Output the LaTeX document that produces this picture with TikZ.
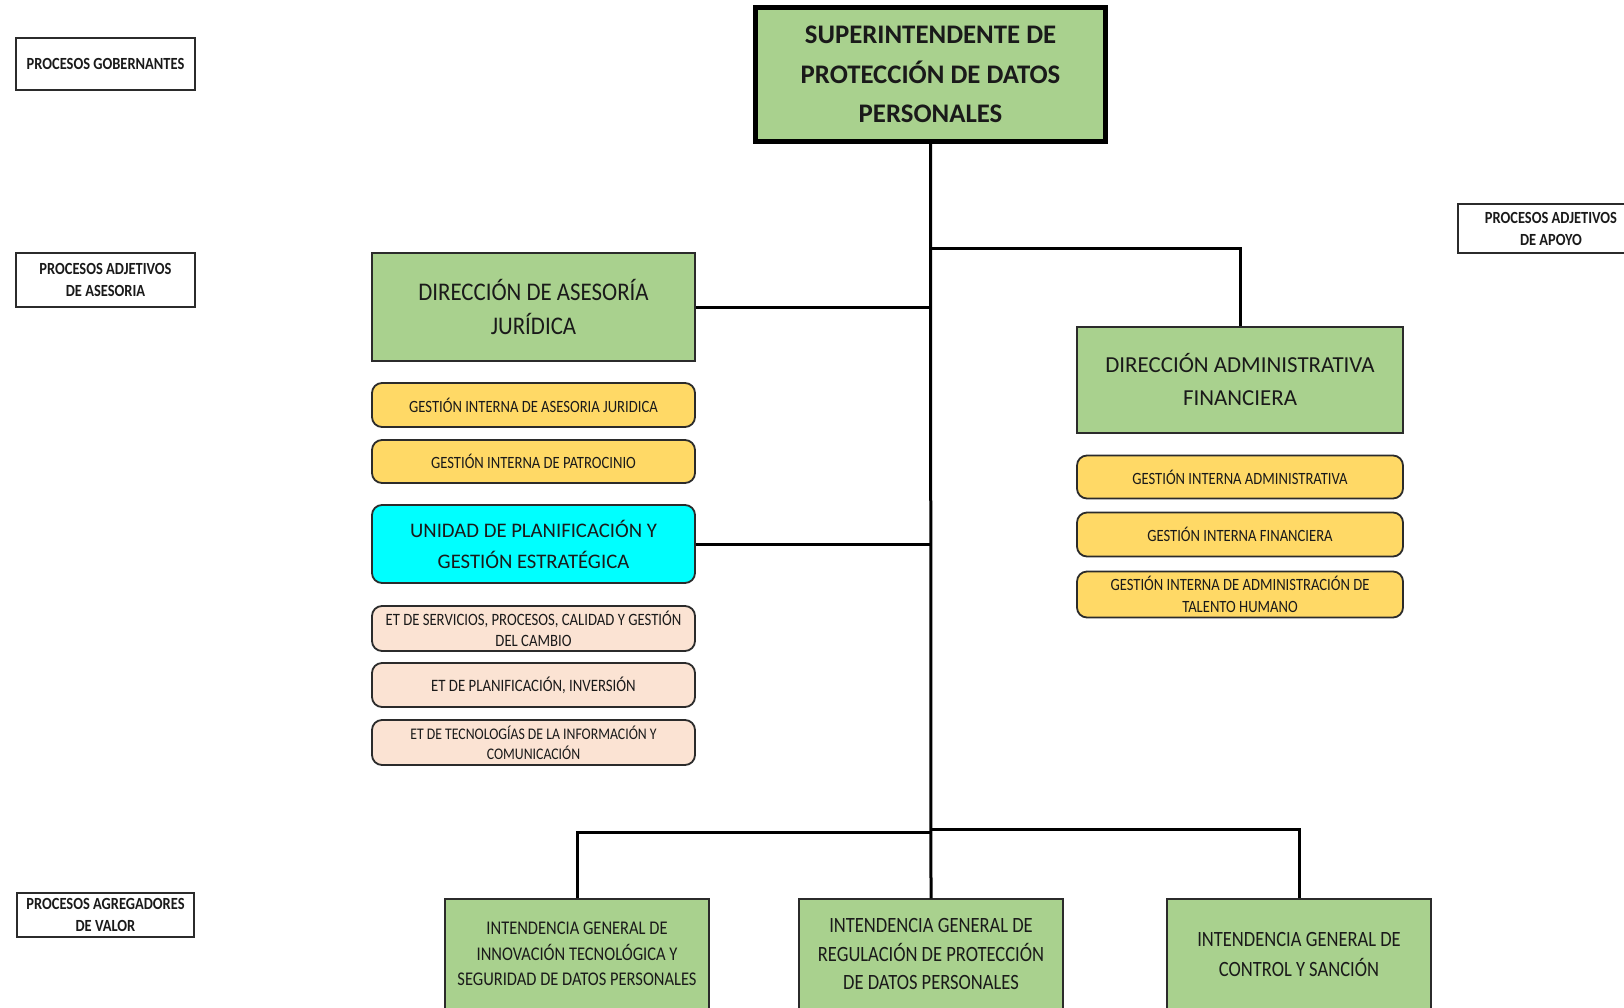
\documentclass[tikz,border=0pt]{standalone}
\usepackage{fontspec}
\setmainfont{Carlito}
\newfontfamily\narrowf[FakeStretch=0.85]{Carlito}
\newfontfamily\semif[FakeStretch=0.9]{Carlito}
\definecolor{bxgreen}{HTML}{A9D18E}
\definecolor{bxyellow}{HTML}{FFD966}
\definecolor{bxcyan}{HTML}{00FFFF}
\definecolor{bxpeach}{HTML}{FBE3D3}
\definecolor{bxline}{HTML}{2B2B2B}
\definecolor{txt}{HTML}{1A1A1A}
\tikzset{
  base/.style={draw=bxline, line width=1.6pt, inner sep=0pt, align=center, text=txt},
  topbox/.style={base, fill=bxgreen, line width=5pt, draw=black, minimum width=350, minimum height=134,
     font=\bfseries\fontsize{26.8}{39.5}\selectfont},
  greenbox/.style={base, fill=bxgreen, line width=1.5pt},
  pill/.style={base, rounded corners=10pt, line width=1.8pt, minimum width=323},
  ybox/.style={pill, fill=bxyellow, font=\narrowf\fontsize{17.2}{22}\selectfont},
  etbox/.style={pill, fill=bxpeach, font=\narrowf\fontsize{17.4}{21}\selectfont},
  labelbox/.style={base, fill=white, line width=1.4pt, font=\narrowf\bfseries\fontsize{17}{22}\selectfont},
  conn/.style={line width=3pt, draw=black}
}
\begin{document}
\begin{tikzpicture}[x=1pt,y=-1pt]
\useasboundingbox (0,0) rectangle (1624,1007);
\clip (0,0) rectangle (1624,1007);
\fill[white] (0,0) rectangle (1624,1007);

% left labels
\node[labelbox, minimum width=179, minimum height=52] (pg) at (105.5,64) {PROCESOS GOBERNANTES};
\node[labelbox, minimum width=179, minimum height=54] (paa) at (105.5,280) {PROCESOS ADJETIVOS\\DE ASESORIA};
\node[labelbox, minimum width=177, minimum height=44] (pav) at (105.5,915) {PROCESOS AGREGADORES\\DE VALOR};
\node[labelbox, minimum width=186, minimum height=49] (pada) at (1551,228.5) {PROCESOS ADJETIVOS\\DE APOYO};

% top
\node[topbox] (sup) at (930.5,74.5) {SUPERINTENDENTE DE\\PROTECCIÓN DE DATOS\\PERSONALES};

% left column
\node[greenbox, minimum width=323, minimum height=108, font=\semif\fontsize{25.4}{34}\selectfont] (daj) at (533.5,307) {DIRECCIÓN DE ASESORÍA\\JURÍDICA};
\node[ybox, minimum height=44] (giaj) at (533.5,405) {GESTIÓN INTERNA DE ASESORIA JURIDICA};
\node[ybox, minimum height=43] (gip) at (533.5,461.5) {GESTIÓN INTERNA DE PATROCINIO};
\node[pill, fill=bxcyan, minimum height=78, font=\fontsize{20.7}{31}\selectfont] (upge) at (533.5,544) {UNIDAD DE PLANIFICACIÓN Y\\GESTIÓN ESTRATÉGICA};
\node[etbox, minimum height=45, font=\narrowf\fontsize{17.3}{21}\selectfont] (et1) at (533.5,628.5) {ET DE SERVICIOS, PROCESOS, CALIDAD Y GESTIÓN\\DEL CAMBIO};
\node[etbox, minimum height=44] (et2) at (533.5,685) {ET DE PLANIFICACIÓN, INVERSIÓN};
\node[etbox, minimum height=45, font=\narrowf\fontsize{16.2}{20}\selectfont] (et3) at (533.5,742.5) {ET DE TECNOLOGÍAS DE LA INFORMACIÓN Y\\COMUNICACIÓN};

% right column
\node[greenbox, minimum width=326, minimum height=106, font=\fontsize{22.9}{33}\selectfont] (daf) at (1240,380) {DIRECCIÓN ADMINISTRATIVA\\FINANCIERA};
\node[ybox, minimum width=326, minimum height=43] (gia) at (1240,477) {GESTIÓN INTERNA ADMINISTRATIVA};
\node[ybox, minimum width=326, minimum height=44] (gif) at (1240,534.5) {GESTIÓN INTERNA FINANCIERA};
\node[ybox, minimum width=326, minimum height=46] (giath) at (1240,594.5) {GESTIÓN INTERNA DE ADMINISTRACIÓN DE\\TALENTO HUMANO};

% bottom row
\node[greenbox, minimum width=264, minimum height=110, font=\narrowf\fontsize{19.4}{25.5}\selectfont] (ig1) at (577,954) {INTENDENCIA GENERAL DE\\INNOVACIÓN TECNOLÓGICA Y\\SEGURIDAD DE DATOS PERSONALES};
\node[greenbox, minimum width=264, minimum height=110, font=\narrowf\fontsize{21.8}{28.5}\selectfont] (ig2) at (931,954) {INTENDENCIA GENERAL DE\\REGULACIÓN DE PROTECCIÓN\\DE DATOS PERSONALES};
\node[greenbox, minimum width=264, minimum height=110, font=\narrowf\fontsize{21.8}{30}\selectfont] (ig3) at (1299,954) {INTENDENCIA GENERAL DE\\CONTROL Y SANCIÓN};

% connectors
\coordinate (b1) at (931,248);
\coordinate (bl) at (931,832);
\coordinate (br) at (931,829);
\draw[conn] (sup.south) -- (ig2.north);
\draw[conn] (b1) -| (daf.north);
\draw[conn] (daj.east) -- (daj.east -| ig2.north);
\draw[conn] (upge.east) -- (upge.east -| ig2.north);
\draw[conn] (bl) -| (ig1.north);
\draw[conn] (br) -| (ig3.north);
\end{tikzpicture}
\end{document}
